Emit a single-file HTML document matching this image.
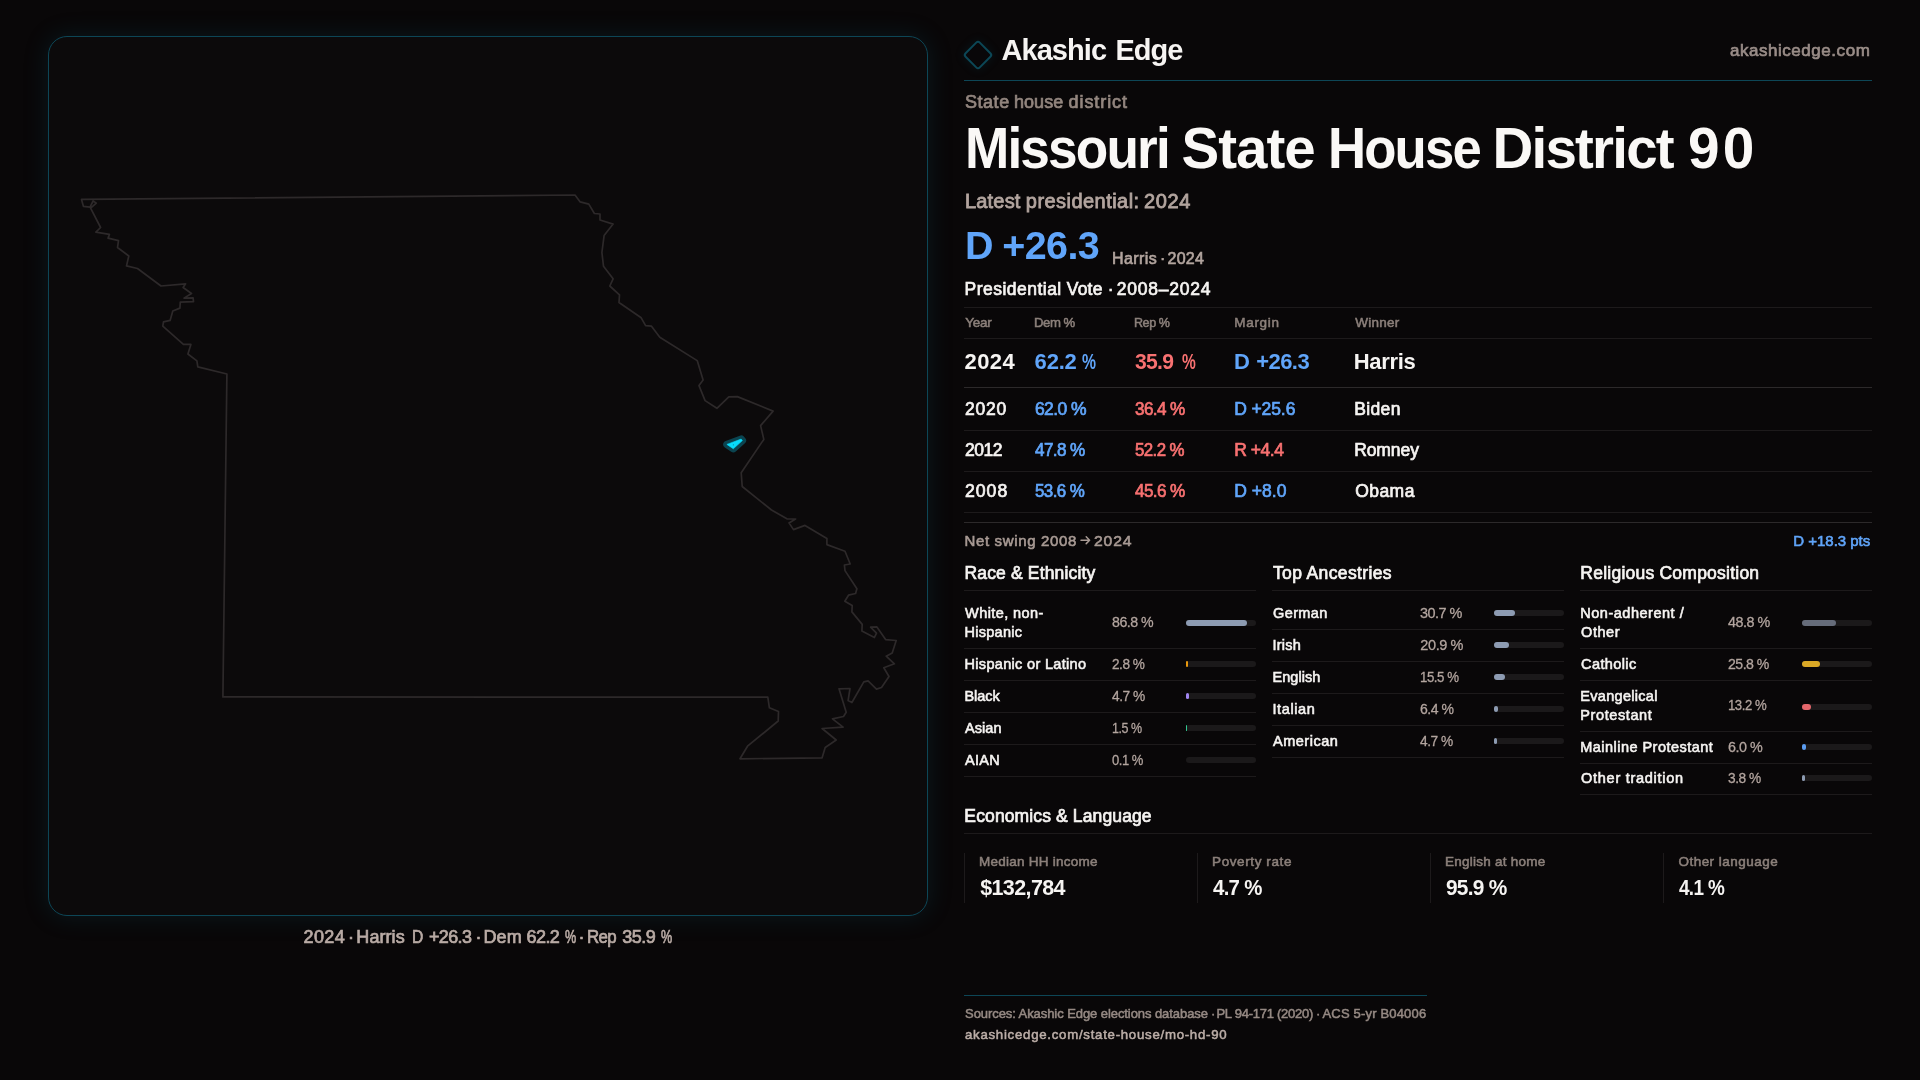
<!DOCTYPE html>
<html lang="en"><head><meta charset="utf-8"><title>Missouri State House District 90 — Akashic Edge</title>
<style>
*{margin:0;padding:0;box-sizing:border-box}
html,body{width:1920px;height:1080px;overflow:hidden;background:#090708}
body{position:relative;font-family:"Liberation Sans",sans-serif}
.panel{position:absolute;left:48px;top:36px;width:880px;height:880px;border:1px solid #0d4656;border-radius:19px;background:#0c0a0b;box-shadow:0 0 24px 1px rgba(14,90,110,.2)}
.map{position:absolute;left:0;top:0}
.logo{position:absolute;left:966.7px;top:44px;width:22px;height:22px;border:2px solid #0c4756;border-radius:3.5px;transform:rotate(45deg);background:#090709;box-shadow:0 0 10px 1px rgba(14,90,110,.15)}
.t{position:absolute;white-space:pre;line-height:1;font-weight:400;transform-origin:0 0}
.txt{position:absolute;left:0;top:0;width:1920px;height:1080px;will-change:transform}
.l{position:absolute;left:0;top:0;font-size:0}
.r{position:absolute}
.b{position:absolute;width:70px;height:6px;border-radius:3px;background:#1b191a}
.b i{display:block;height:6px;border-radius:3px}
</style></head>
<body>
<div class="panel"></div>
<svg class="map" width="1920" height="1080" viewBox="0 0 1920 1080">
<path d="M81.5 199.4 L83.4 206.3 L90.0 207.1 L93.1 201.0 L96.3 203.1 L90.6 208.1 L100.6 227.5 L95.9 232.1 L109.4 234.4 L108.1 238.1 L118.5 240.6 L117.5 247.5 L128.8 256.0 L126.5 265.9 L137.5 268.5 L161.0 286.0 L185.6 283.8 L183.1 287.5 L191.5 293.5 L184.0 298.1 L193.1 297.8 L193.5 301.6 L180.3 302.1 L179.9 308.1 L172.8 311.0 L170.1 320.4 L163.5 321.9 L162.8 326.2 L183.4 344.4 L190.9 344.4 L187.9 354.0 L196.9 360.9 L197.8 366.9 L226.9 374.0 L222.9 696.9 L767.8 697.2 L769.4 707.8 L778.5 711.5 L778.2 721.0 L747.5 746.2 L740.0 758.8 L822.1 757.8 L825.2 747.5 L836.2 740.0 L822.1 728.5 L843.1 727.2 L832.5 718.8 L843.5 716.5 L846.2 712.2 L839.0 688.8 L850.0 688.5 L848.1 700.6 L851.9 702.5 L863.8 681.9 L868.1 680.9 L876.5 689.1 L881.5 687.5 L889.0 676.5 L883.8 667.8 L894.4 663.8 L886.2 656.2 L892.2 652.9 L896.2 640.5 L885.6 639.6 L876.9 626.9 L870.6 627.2 L876.5 633.1 L874.4 637.5 L861.9 631.0 L862.2 624.4 L851.9 611.9 L852.2 605.6 L844.8 601.2 L848.5 595.2 L855.6 593.5 L856.9 588.8 L845.0 570.6 L844.4 565.0 L850.2 564.0 L845.0 551.2 L826.9 544.6 L826.9 538.5 L805.0 525.4 L793.5 529.6 L789.0 522.9 L795.6 519.0 L786.9 518.8 L771.5 510.0 L742.2 486.5 L741.2 472.8 L763.8 439.4 L760.6 425.6 L773.1 411.1 L737.4 396.6 L728.8 396.9 L716.9 408.3 L705.1 400.6 L699.0 385.6 L703.1 379.9 L697.2 360.6 L659.8 337.2 L651.5 326.2 L645.6 325.6 L641.2 317.8 L619.0 302.5 L619.5 294.8 L609.8 286.0 L613.1 278.8 L603.5 266.2 L601.9 252.5 L604.1 235.6 L613.1 224.1 L600.0 220.0 L600.0 214.0 L594.4 213.5 L588.8 204.1 L580.2 201.9 L575.0 195.0 Z" fill="none" stroke="#2d292a" stroke-width="1.7" stroke-linejoin="round"/>
<path d="M726.9 444.4 L741.1 439.1 L742.4 440.5 L733.3 448.8 Z" fill="#0b4450" stroke="#0b4450" stroke-width="7.4" stroke-linejoin="round"/>
<path d="M726.9 444.4 L741.1 439.1 L742.4 440.5 L733.3 448.8 Z" fill="#08dcfc" stroke="#08dcfc" stroke-width="0.6" stroke-linejoin="round"/>
<circle cx="733.4" cy="444.8" r="0.6" fill="#0a8fa6"/>
<path d="M1081 540.2 H1089.6 M1086.2 536.8 L1089.6 540.2 L1086.2 543.6" fill="none" stroke="#a89a94" stroke-width="1.5" stroke-linecap="round" stroke-linejoin="round"/>
</svg>
<div class="logo"></div>
<div class="r" style="left:964px;top:80px;width:908px;height:1px;background:#0d4656"></div>
<div class="r" style="left:964px;top:307px;width:908px;height:1px;background:#1d1a1b"></div>
<div class="r" style="left:964px;top:338px;width:908px;height:1px;background:#1d1a1b"></div>
<div class="r" style="left:964px;top:387px;width:908px;height:1px;background:#2c292a"></div>
<div class="r" style="left:964px;top:430px;width:908px;height:1px;background:#1d1a1b"></div>
<div class="r" style="left:964px;top:471px;width:908px;height:1px;background:#1d1a1b"></div>
<div class="r" style="left:964px;top:512px;width:908px;height:1px;background:#1d1a1b"></div>
<div class="r" style="left:964px;top:522px;width:908px;height:1px;background:#2c292a"></div>
<div class="r" style="left:964px;top:590px;width:292px;height:1px;background:#1d1a1b"></div>
<div class="r" style="left:1272px;top:590px;width:292px;height:1px;background:#1d1a1b"></div>
<div class="r" style="left:1580px;top:590px;width:292px;height:1px;background:#1d1a1b"></div>
<div class="r" style="left:964px;top:648px;width:292px;height:1px;background:#1d1a1b"></div>
<div class="r" style="left:964px;top:680px;width:292px;height:1px;background:#1d1a1b"></div>
<div class="r" style="left:964px;top:712px;width:292px;height:1px;background:#1d1a1b"></div>
<div class="r" style="left:964px;top:744px;width:292px;height:1px;background:#1d1a1b"></div>
<div class="r" style="left:964px;top:776px;width:292px;height:1px;background:#1d1a1b"></div>
<div class="r" style="left:1272px;top:629px;width:292px;height:1px;background:#1d1a1b"></div>
<div class="r" style="left:1272px;top:661px;width:292px;height:1px;background:#1d1a1b"></div>
<div class="r" style="left:1272px;top:693px;width:292px;height:1px;background:#1d1a1b"></div>
<div class="r" style="left:1272px;top:725px;width:292px;height:1px;background:#1d1a1b"></div>
<div class="r" style="left:1272px;top:757px;width:292px;height:1px;background:#1d1a1b"></div>
<div class="r" style="left:1580px;top:648px;width:292px;height:1px;background:#1d1a1b"></div>
<div class="r" style="left:1580px;top:680px;width:292px;height:1px;background:#1d1a1b"></div>
<div class="r" style="left:1580px;top:731px;width:292px;height:1px;background:#1d1a1b"></div>
<div class="r" style="left:1580px;top:763px;width:292px;height:1px;background:#1d1a1b"></div>
<div class="r" style="left:1580px;top:794px;width:292px;height:1px;background:#1d1a1b"></div>
<div class="r" style="left:964px;top:833px;width:908px;height:1px;background:#1d1a1b"></div>
<div class="r" style="left:964px;top:853px;width:1px;height:50px;background:#1d1a1b"></div>
<div class="r" style="left:1197px;top:853px;width:1px;height:50px;background:#1d1a1b"></div>
<div class="r" style="left:1430px;top:853px;width:1px;height:50px;background:#1d1a1b"></div>
<div class="r" style="left:1663px;top:853px;width:1px;height:50px;background:#1d1a1b"></div>
<div class="r" style="left:964px;top:995px;width:463px;height:1px;background:#0d4656"></div>
<div class="b" style="left:1186px;top:620px"><i style="width:60.76px;background:#8d9bb2"></i></div>
<div class="b" style="left:1186px;top:661px"><i style="width:1.96px;background:#e8980e"></i></div>
<div class="b" style="left:1186px;top:693px"><i style="width:3.29px;background:#a085f0"></i></div>
<div class="b" style="left:1186px;top:725px"><i style="width:1.05px;background:#32c891"></i></div>
<div class="b" style="left:1186px;top:757px"><i style="width:0.00px;background:#8d9bb2"></i></div>
<div class="b" style="left:1494px;top:610px"><i style="width:21.49px;background:#8d9bb2"></i></div>
<div class="b" style="left:1494px;top:642px"><i style="width:14.63px;background:#8d9bb2"></i></div>
<div class="b" style="left:1494px;top:674px"><i style="width:10.85px;background:#8d9bb2"></i></div>
<div class="b" style="left:1494px;top:706px"><i style="width:4.48px;background:#8d9bb2"></i></div>
<div class="b" style="left:1494px;top:738px"><i style="width:3.29px;background:#8d9bb2"></i></div>
<div class="b" style="left:1802px;top:620px"><i style="width:34.16px;background:#666c7a"></i></div>
<div class="b" style="left:1802px;top:661px"><i style="width:18.06px;background:#dba926"></i></div>
<div class="b" style="left:1802px;top:704px"><i style="width:9.24px;background:#e4666b"></i></div>
<div class="b" style="left:1802px;top:744px"><i style="width:4.20px;background:#5b9cf0"></i></div>
<div class="b" style="left:1802px;top:775px"><i style="width:2.66px;background:#8d9bb2"></i></div>
<div class="txt">
<div class="l"><span class="t" style="left:1001.40px;top:36px;font-size:29px;color:#f6f4f2;letter-spacing:-0.917px;font-weight:700">Akashic</span> <span class="t" style="left:1115.40px;top:36px;font-size:29px;color:#f6f4f2;letter-spacing:-0.990px;font-weight:700">Edge</span></div>
<div class="t" style="left:1729.94px;top:42px;font-size:17px;color:#9a8d88;letter-spacing:0.542px;-webkit-text-stroke:0.68px #9a8d88">akashicedge.com</div>
<div class="l"><span class="t" style="left:964.96px;top:93px;font-size:18px;color:#93867f;letter-spacing:0.540px;-webkit-text-stroke:0.72px #93867f">State</span> <span class="t" style="left:1013.96px;top:93px;font-size:18px;color:#93867f;letter-spacing:0.062px;-webkit-text-stroke:0.72px #93867f">house</span> <span class="t" style="left:1068.56px;top:93px;font-size:18px;color:#93867f;letter-spacing:0.925px;-webkit-text-stroke:0.72px #93867f">district</span></div>
<div class="l"><span class="t" style="left:964.98px;top:121px;font-size:56.5px;color:#faf8f6;letter-spacing:-1.978px;font-weight:700;transform:scaleX(0.9416)">Missouri</span> <span class="t" style="left:1181.60px;top:121px;font-size:56.5px;color:#faf8f6;letter-spacing:-1.009px;font-weight:700">State</span> <span class="t" style="left:1327.80px;top:121px;font-size:56.5px;color:#faf8f6;letter-spacing:-1.978px;font-weight:700;transform:scaleX(0.9336)">House</span> <span class="t" style="left:1492.60px;top:121px;font-size:56.5px;color:#faf8f6;letter-spacing:-1.806px;font-weight:700">District</span> <span class="t" style="left:1688.20px;top:121px;font-size:56.5px;color:#faf8f6;letter-spacing:3.107px;font-weight:700;transform:scaleX(1.0042)">90</span></div>
<div class="l"><span class="t" style="left:965.00px;top:191px;font-size:20px;color:#b3a59f;letter-spacing:0.175px;-webkit-text-stroke:0.8px #b3a59f">Latest</span> <span class="t" style="left:1025.80px;top:191px;font-size:20px;color:#b3a59f;letter-spacing:0.460px;-webkit-text-stroke:0.8px #b3a59f">presidential:</span> <span class="t" style="left:1144.00px;top:191px;font-size:20px;color:#b3a59f;letter-spacing:0.644px;-webkit-text-stroke:0.8px #b3a59f">2024</span></div>
<div class="l"><span class="t" style="left:965.05px;top:226px;font-size:39.5px;color:#60a5fa;font-weight:700">D</span> <span class="t" style="left:1002.20px;top:226px;font-size:39.5px;color:#60a5fa;letter-spacing:-0.594px;font-weight:700">+26.3</span></div>
<div class="l"><span class="t" style="left:1112.12px;top:251px;font-size:16px;color:#b3a59f;letter-spacing:0.379px;-webkit-text-stroke:0.64px #b3a59f">Harris</span> <span class="t" style="left:1160.00px;top:251px;font-size:16px;color:#b3a59f;-webkit-text-stroke:0.64px #b3a59f">·</span> <span class="t" style="left:1167.52px;top:251px;font-size:16px;color:#b3a59f;letter-spacing:0.222px;-webkit-text-stroke:0.64px #b3a59f">2024</span></div>
<div class="l"><span class="t" style="left:964.55px;top:281px;font-size:17.5px;color:#f6f4f2;letter-spacing:0.477px;-webkit-text-stroke:0.7px #f6f4f2">Presidential</span> <span class="t" style="left:1066.75px;top:281px;font-size:17.5px;color:#f6f4f2;letter-spacing:0.199px;-webkit-text-stroke:0.7px #f6f4f2">Vote</span> <span class="t" style="left:1107.75px;top:281px;font-size:17.5px;color:#f6f4f2;-webkit-text-stroke:0.7px #f6f4f2">·</span> <span class="t" style="left:1116.75px;top:281px;font-size:17.5px;color:#f6f4f2;letter-spacing:0.780px;-webkit-text-stroke:0.7px #f6f4f2">2008–2024</span></div>
<div class="t" style="left:965.27px;top:316px;font-size:13.5px;color:#8c807b;letter-spacing:-0.274px;-webkit-text-stroke:0.54px #8c807b">Year</div>
<div class="t" style="left:1034.30px;top:316px;font-size:13.5px;color:#8c807b;letter-spacing:-0.473px;-webkit-text-stroke:0.54px #8c807b;transform:scaleX(0.9733)">Dem %</div>
<div class="t" style="left:1134.34px;top:316px;font-size:13.5px;color:#8c807b;letter-spacing:-0.473px;-webkit-text-stroke:0.54px #8c807b;transform:scaleX(0.9291)">Rep %</div>
<div class="t" style="left:1234.27px;top:316px;font-size:13.5px;color:#8c807b;letter-spacing:0.681px;-webkit-text-stroke:0.54px #8c807b">Margin</div>
<div class="t" style="left:1355.27px;top:316px;font-size:13.5px;color:#8c807b;letter-spacing:0.239px;-webkit-text-stroke:0.54px #8c807b">Winner</div>
<div class="t" style="left:964.60px;top:351px;font-size:22px;color:#f6f4f2;letter-spacing:0.365px;font-weight:700">2024</div>
<div class="l"><span class="t" style="left:1034.60px;top:351px;font-size:22px;color:#60a5fa;letter-spacing:-0.194px;font-weight:700">62.2</span> <span class="t" style="left:1082.20px;top:351px;font-size:22px;color:#60a5fa;font-weight:700;transform:scaleX(0.7158)">%</span></div>
<div class="l"><span class="t" style="left:1134.60px;top:351px;font-size:22px;color:#f87171;letter-spacing:-0.770px;font-weight:700;transform:scaleX(0.9609)">35.9</span> <span class="t" style="left:1182.40px;top:351px;font-size:22px;color:#f87171;font-weight:700;transform:scaleX(0.7053)">%</span></div>
<div class="l"><span class="t" style="left:1234.05px;top:351px;font-size:22px;color:#60a5fa;font-weight:700">D</span> <span class="t" style="left:1256.30px;top:351px;font-size:22px;color:#60a5fa;letter-spacing:-0.583px;font-weight:700">+26.3</span></div>
<div class="t" style="left:1353.80px;top:351px;font-size:22px;color:#f6f4f2;letter-spacing:-0.352px;font-weight:700">Harris</div>
<div class="t" style="left:964.95px;top:401px;font-size:17.5px;color:#f6f4f2;letter-spacing:0.767px;-webkit-text-stroke:0.7px #f6f4f2">2020</div>
<div class="t" style="left:1034.95px;top:401px;font-size:17.5px;color:#60a5fa;letter-spacing:-0.594px;-webkit-text-stroke:0.7px #60a5fa">62.0 %</div>
<div class="t" style="left:1134.95px;top:401px;font-size:17.5px;color:#f87171;letter-spacing:-0.613px;-webkit-text-stroke:0.7px #f87171;transform:scaleX(0.9772)">36.4 %</div>
<div class="t" style="left:1234.15px;top:401px;font-size:17.5px;color:#60a5fa;letter-spacing:-0.091px;-webkit-text-stroke:0.7px #60a5fa">D +25.6</div>
<div class="t" style="left:1354.15px;top:401px;font-size:17.5px;color:#f6f4f2;letter-spacing:0.369px;-webkit-text-stroke:0.7px #f6f4f2">Biden</div>
<div class="t" style="left:964.95px;top:442px;font-size:17.5px;color:#f6f4f2;letter-spacing:-0.499px;-webkit-text-stroke:0.7px #f6f4f2">2012</div>
<div class="t" style="left:1034.95px;top:442px;font-size:17.5px;color:#60a5fa;letter-spacing:-0.613px;-webkit-text-stroke:0.7px #60a5fa;transform:scaleX(0.9772)">47.8 %</div>
<div class="t" style="left:1134.95px;top:442px;font-size:17.5px;color:#f87171;letter-spacing:-0.613px;-webkit-text-stroke:0.7px #f87171;transform:scaleX(0.9625)">52.2 %</div>
<div class="t" style="left:1234.15px;top:442px;font-size:17.5px;color:#f87171;letter-spacing:-0.463px;-webkit-text-stroke:0.7px #f87171">R +4.4</div>
<div class="t" style="left:1354.15px;top:442px;font-size:17.5px;color:#f6f4f2;letter-spacing:-0.083px;-webkit-text-stroke:0.7px #f6f4f2">Romney</div>
<div class="t" style="left:964.95px;top:483px;font-size:17.5px;color:#f6f4f2;letter-spacing:0.963px;-webkit-text-stroke:0.7px #f6f4f2;transform:scaleX(1.0101)">2008</div>
<div class="t" style="left:1034.95px;top:483px;font-size:17.5px;color:#60a5fa;letter-spacing:-0.613px;-webkit-text-stroke:0.7px #60a5fa;transform:scaleX(0.9674)">53.6 %</div>
<div class="t" style="left:1134.95px;top:483px;font-size:17.5px;color:#f87171;letter-spacing:-0.613px;-webkit-text-stroke:0.7px #f87171;transform:scaleX(0.9772)">45.6 %</div>
<div class="t" style="left:1234.15px;top:483px;font-size:17.5px;color:#60a5fa;letter-spacing:0.037px;-webkit-text-stroke:0.7px #60a5fa">D +8.0</div>
<div class="t" style="left:1355.15px;top:483px;font-size:17.5px;color:#f6f4f2;letter-spacing:0.461px;-webkit-text-stroke:0.7px #f6f4f2">Obama</div>
<div class="l"><span class="t" style="left:964.50px;top:533px;font-size:15px;color:#a89a94;letter-spacing:0.650px;-webkit-text-stroke:0.6px #a89a94">Net swing 2008</span> <span class="t" style="left:1094.10px;top:533px;font-size:15px;color:#a89a94;letter-spacing:0.825px;-webkit-text-stroke:0.6px #a89a94;transform:scaleX(1.0478)">2024</span></div>
<div class="t" style="left:1793.30px;top:533px;font-size:15px;color:#60a5fa;letter-spacing:-0.023px;-webkit-text-stroke:0.6px #60a5fa">D +18.3 pts</div>
<div class="t" style="left:964.55px;top:565px;font-size:17.5px;color:#f6f4f2;letter-spacing:0.151px;-webkit-text-stroke:0.7px #f6f4f2">Race &amp; Ethnicity</div>
<div class="t" style="left:1272.95px;top:565px;font-size:17.5px;color:#f6f4f2;letter-spacing:0.375px;-webkit-text-stroke:0.7px #f6f4f2">Top Ancestries</div>
<div class="t" style="left:1580.35px;top:565px;font-size:17.5px;color:#f6f4f2;letter-spacing:0.231px;-webkit-text-stroke:0.7px #f6f4f2">Religious Composition</div>
<div class="t" style="left:965.09px;top:606px;font-size:14.5px;color:#f6f4f2;letter-spacing:0.406px;-webkit-text-stroke:0.58px #f6f4f2">White, non-</div>
<div class="t" style="left:964.49px;top:625px;font-size:14.5px;color:#f6f4f2;letter-spacing:0.280px;-webkit-text-stroke:0.58px #f6f4f2">Hispanic</div>
<div class="t" style="left:1112.35px;top:615px;font-size:14.5px;color:#b3a59f;letter-spacing:-0.508px;-webkit-text-stroke:0.29px #b3a59f;transform:scaleX(0.9777)">86.8 %</div>
<div class="t" style="left:964.49px;top:657px;font-size:14.5px;color:#f6f4f2;letter-spacing:0.322px;-webkit-text-stroke:0.58px #f6f4f2">Hispanic or Latino</div>
<div class="t" style="left:1112.35px;top:657px;font-size:14.5px;color:#b3a59f;letter-spacing:-0.508px;-webkit-text-stroke:0.29px #b3a59f;transform:scaleX(0.9390)">2.8 %</div>
<div class="t" style="left:964.49px;top:689px;font-size:14.5px;color:#f6f4f2;letter-spacing:-0.059px;-webkit-text-stroke:0.58px #f6f4f2">Black</div>
<div class="t" style="left:1112.35px;top:689px;font-size:14.5px;color:#b3a59f;letter-spacing:-0.508px;-webkit-text-stroke:0.29px #b3a59f;transform:scaleX(0.9461)">4.7 %</div>
<div class="t" style="left:965.09px;top:721px;font-size:14.5px;color:#f6f4f2;letter-spacing:0.041px;-webkit-text-stroke:0.58px #f6f4f2">Asian</div>
<div class="t" style="left:1112.08px;top:721px;font-size:14.5px;color:#b3a59f;letter-spacing:-0.508px;-webkit-text-stroke:0.29px #b3a59f;transform:scaleX(0.8611)">1.5 %</div>
<div class="t" style="left:965.09px;top:753px;font-size:14.5px;color:#f6f4f2;letter-spacing:0.250px;-webkit-text-stroke:0.58px #f6f4f2">AIAN</div>
<div class="t" style="left:1112.35px;top:753px;font-size:14.5px;color:#b3a59f;letter-spacing:-0.508px;-webkit-text-stroke:0.29px #b3a59f;transform:scaleX(0.8963)">0.1 %</div>
<div class="t" style="left:1273.09px;top:606px;font-size:14.5px;color:#f6f4f2;letter-spacing:0.361px;-webkit-text-stroke:0.58px #f6f4f2">German</div>
<div class="t" style="left:1420.35px;top:606px;font-size:14.5px;color:#b3a59f;letter-spacing:-0.508px;-webkit-text-stroke:0.29px #b3a59f;transform:scaleX(0.9953)">30.7 %</div>
<div class="t" style="left:1272.49px;top:638px;font-size:14.5px;color:#f6f4f2;letter-spacing:0.223px;-webkit-text-stroke:0.58px #f6f4f2">Irish</div>
<div class="t" style="left:1420.35px;top:638px;font-size:14.5px;color:#b3a59f;letter-spacing:-0.398px;-webkit-text-stroke:0.29px #b3a59f">20.9 %</div>
<div class="t" style="left:1272.49px;top:670px;font-size:14.5px;color:#f6f4f2;letter-spacing:0.038px;-webkit-text-stroke:0.58px #f6f4f2">English</div>
<div class="t" style="left:1420.03px;top:670px;font-size:14.5px;color:#b3a59f;letter-spacing:-0.508px;-webkit-text-stroke:0.29px #b3a59f;transform:scaleX(0.9148)">15.5 %</div>
<div class="t" style="left:1272.49px;top:702px;font-size:14.5px;color:#f6f4f2;letter-spacing:0.599px;-webkit-text-stroke:0.58px #f6f4f2">Italian</div>
<div class="t" style="left:1420.35px;top:702px;font-size:14.5px;color:#b3a59f;letter-spacing:-0.508px;-webkit-text-stroke:0.29px #b3a59f;transform:scaleX(0.9674)">6.4 %</div>
<div class="t" style="left:1273.09px;top:734px;font-size:14.5px;color:#f6f4f2;letter-spacing:0.492px;-webkit-text-stroke:0.58px #f6f4f2">American</div>
<div class="t" style="left:1420.35px;top:734px;font-size:14.5px;color:#b3a59f;letter-spacing:-0.508px;-webkit-text-stroke:0.29px #b3a59f;transform:scaleX(0.9461)">4.7 %</div>
<div class="t" style="left:1580.29px;top:606px;font-size:14.5px;color:#f6f4f2;letter-spacing:0.517px;-webkit-text-stroke:0.58px #f6f4f2">Non-adherent /</div>
<div class="t" style="left:1581.09px;top:625px;font-size:14.5px;color:#f6f4f2;letter-spacing:0.546px;-webkit-text-stroke:0.58px #f6f4f2">Other</div>
<div class="t" style="left:1728.35px;top:615px;font-size:14.5px;color:#b3a59f;letter-spacing:-0.508px;-webkit-text-stroke:0.29px #b3a59f;transform:scaleX(0.9894)">48.8 %</div>
<div class="t" style="left:1581.09px;top:657px;font-size:14.5px;color:#f6f4f2;letter-spacing:0.391px;-webkit-text-stroke:0.58px #f6f4f2">Catholic</div>
<div class="t" style="left:1728.35px;top:657px;font-size:14.5px;color:#b3a59f;letter-spacing:-0.508px;-webkit-text-stroke:0.29px #b3a59f;transform:scaleX(0.9719)">25.8 %</div>
<div class="t" style="left:1580.29px;top:689px;font-size:14.5px;color:#f6f4f2;letter-spacing:0.298px;-webkit-text-stroke:0.58px #f6f4f2">Evangelical</div>
<div class="t" style="left:1580.29px;top:708px;font-size:14.5px;color:#f6f4f2;letter-spacing:0.595px;-webkit-text-stroke:0.58px #f6f4f2">Protestant</div>
<div class="t" style="left:1728.04px;top:698px;font-size:14.5px;color:#b3a59f;letter-spacing:-0.508px;-webkit-text-stroke:0.29px #b3a59f;transform:scaleX(0.9088)">13.2 %</div>
<div class="t" style="left:1580.29px;top:740px;font-size:14.5px;color:#f6f4f2;letter-spacing:0.463px;-webkit-text-stroke:0.58px #f6f4f2">Mainline Protestant</div>
<div class="t" style="left:1728.35px;top:740px;font-size:14.5px;color:#b3a59f;letter-spacing:-0.508px;-webkit-text-stroke:0.29px #b3a59f;transform:scaleX(0.9887)">6.0 %</div>
<div class="t" style="left:1581.09px;top:771px;font-size:14.5px;color:#f6f4f2;letter-spacing:0.718px;-webkit-text-stroke:0.58px #f6f4f2">Other tradition</div>
<div class="t" style="left:1728.35px;top:771px;font-size:14.5px;color:#b3a59f;letter-spacing:-0.508px;-webkit-text-stroke:0.29px #b3a59f;transform:scaleX(0.9461)">3.8 %</div>
<div class="t" style="left:964.35px;top:808px;font-size:17.5px;color:#f6f4f2;letter-spacing:0.126px;-webkit-text-stroke:0.7px #f6f4f2">Economics &amp; Language</div>
<div class="t" style="left:979.07px;top:855px;font-size:13.5px;color:#8c807b;letter-spacing:0.238px;-webkit-text-stroke:0.54px #8c807b">Median HH income</div>
<div class="t" style="left:1212.07px;top:855px;font-size:13.5px;color:#8c807b;letter-spacing:0.599px;-webkit-text-stroke:0.54px #8c807b">Poverty rate</div>
<div class="t" style="left:1445.07px;top:855px;font-size:13.5px;color:#8c807b;letter-spacing:0.240px;-webkit-text-stroke:0.54px #8c807b">English at home</div>
<div class="t" style="left:1678.47px;top:855px;font-size:13.5px;color:#8c807b;letter-spacing:0.469px;-webkit-text-stroke:0.54px #8c807b">Other language</div>
<div class="t" style="left:980.20px;top:878px;font-size:21.5px;color:#f6f4f2;letter-spacing:-0.617px;font-weight:700">$132,784</div>
<div class="t" style="left:1212.80px;top:878px;font-size:21.5px;color:#f6f4f2;letter-spacing:-0.753px;font-weight:700;transform:scaleX(0.9489)">4.7 %</div>
<div class="t" style="left:1445.80px;top:878px;font-size:21.5px;color:#f6f4f2;letter-spacing:-0.753px;font-weight:700;transform:scaleX(0.9706)">95.9 %</div>
<div class="t" style="left:1678.60px;top:878px;font-size:21.5px;color:#f6f4f2;letter-spacing:-0.753px;font-weight:700;transform:scaleX(0.8794)">4.1 %</div>
<div class="l"><span class="t" style="left:965.06px;top:1007px;font-size:13px;color:#968a84;letter-spacing:-0.072px;-webkit-text-stroke:0.52px #968a84">Sources: Akashic Edge elections database</span> <span class="t" style="left:1210.88px;top:1007px;font-size:13px;color:#968a84;-webkit-text-stroke:0.52px #968a84">·</span> <span class="t" style="left:1216.46px;top:1007px;font-size:13px;color:#968a84;letter-spacing:-0.258px;-webkit-text-stroke:0.52px #968a84">PL 94-171 (2020)</span> <span class="t" style="left:1315.88px;top:1007px;font-size:13px;color:#968a84;-webkit-text-stroke:0.52px #968a84">·</span> <span class="t" style="left:1322.46px;top:1007px;font-size:13px;color:#968a84;letter-spacing:0.182px;-webkit-text-stroke:0.52px #968a84">ACS 5-yr B04006</span></div>
<div class="t" style="left:965.06px;top:1028px;font-size:13px;color:#bcaea8;letter-spacing:0.715px;-webkit-text-stroke:0.52px #bcaea8;transform:scaleX(1.0180)">akashicedge.com/state-house/mo-hd-90</div>
<div class="l"><span class="t" style="left:303.56px;top:928px;font-size:18px;color:#b9aba5;letter-spacing:0.349px;-webkit-text-stroke:0.72px #b9aba5">2024</span> <span class="t" style="left:348.12px;top:928px;font-size:18px;color:#b9aba5;-webkit-text-stroke:0.72px #b9aba5">·</span> <span class="t" style="left:356.36px;top:928px;font-size:18px;color:#b9aba5;letter-spacing:0.057px;-webkit-text-stroke:0.72px #b9aba5">Harris</span> <span class="t" style="left:411.50px;top:928px;font-size:18px;color:#b9aba5;-webkit-text-stroke:0.72px #b9aba5;transform:scaleX(0.8650)">D</span> <span class="t" style="left:428.96px;top:928px;font-size:18px;color:#b9aba5;letter-spacing:-0.630px;-webkit-text-stroke:0.72px #b9aba5;transform:scaleX(0.9969)">+26.3</span> <span class="t" style="left:475.50px;top:928px;font-size:18px;color:#b9aba5;-webkit-text-stroke:0.72px #b9aba5">·</span> <span class="t" style="left:483.56px;top:928px;font-size:18px;color:#b9aba5;letter-spacing:0.035px;-webkit-text-stroke:0.72px #b9aba5">Dem</span> <span class="t" style="left:526.56px;top:928px;font-size:18px;color:#b9aba5;letter-spacing:-0.581px;-webkit-text-stroke:0.72px #b9aba5">62.2</span> <span class="t" style="left:564.70px;top:928px;font-size:18px;color:#b9aba5;-webkit-text-stroke:0.72px #b9aba5;transform:scaleX(0.7000)">%</span> <span class="t" style="left:578.50px;top:928px;font-size:18px;color:#b9aba5;-webkit-text-stroke:0.72px #b9aba5">·</span> <span class="t" style="left:586.82px;top:928px;font-size:18px;color:#b9aba5;letter-spacing:-0.630px;-webkit-text-stroke:0.72px #b9aba5;transform:scaleX(0.9359)">Rep</span> <span class="t" style="left:622.36px;top:928px;font-size:18px;color:#b9aba5;letter-spacing:-0.514px;-webkit-text-stroke:0.72px #b9aba5">35.9</span> <span class="t" style="left:660.98px;top:928px;font-size:18px;color:#b9aba5;-webkit-text-stroke:0.72px #b9aba5;transform:scaleX(0.7000)">%</span></div>
</div>
</body></html>
